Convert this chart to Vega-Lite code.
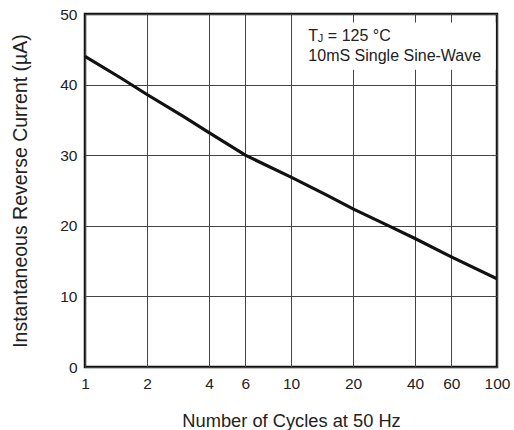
{
  "$schema": "https://vega.github.io/schema/vega-lite/v6.json",
  "autosize": "none",
  "width": 412,
  "height": 353,
  "padding": {"left": 85, "top": 14, "right": 17, "bottom": 63},
  "background": "white",
  "config": {
    "font": "Liberation Sans",
    "view": {"stroke": "#111", "strokeWidth": 2.5},
    "axis": {
      "domain": false,
      "ticks": false,
      "grid": true,
      "gridColor": "#444",
      "gridWidth": 1,
      "gridOpacity": 1,
      "labelFont": "Liberation Sans",
      "labelFontSize": 15.5,
      "labelColor": "#222",
      "titleFont": "Liberation Sans",
      "titleFontWeight": "normal",
      "titleColor": "#222"
    }
  },
  "layer": [
    {
      "data": {
        "values": [
          {"cycles": 1, "current": 44.0},
          {"cycles": 1.5, "current": 40.9},
          {"cycles": 2, "current": 38.6},
          {"cycles": 3, "current": 35.5},
          {"cycles": 4, "current": 33.2},
          {"cycles": 6, "current": 30.0},
          {"cycles": 10, "current": 26.9},
          {"cycles": 15, "current": 24.3},
          {"cycles": 20, "current": 22.4},
          {"cycles": 30, "current": 19.95},
          {"cycles": 40, "current": 18.2},
          {"cycles": 60, "current": 15.6},
          {"cycles": 100, "current": 12.5}
        ]
      },
      "mark": {"type": "line", "color": "#111", "strokeWidth": 3.2, "clip": true},
      "encoding": {
        "x": {
          "field": "cycles",
          "type": "quantitative",
          "scale": {"type": "log", "domain": [1, 100], "nice": false},
          "axis": {
            "values": [1, 2, 4, 6, 10, 20, 40, 60, 100],
            "format": "d",
            "labelPadding": 9,
            "labelFlush": false,
            "labelOverlap": false,
            "title": "Number of Cycles at 50 Hz",
            "titleFontSize": 18.3,
            "titlePadding": 21
          }
        },
        "y": {
          "field": "current",
          "type": "quantitative",
          "scale": {"domain": [0, 50], "nice": false},
          "axis": {
            "values": [0, 10, 20, 30, 40, 50],
            "labelPadding": 8,
            "title": "Instantaneous Reverse Current (µA)",
            "titleFontSize": 19.5,
            "titlePadding": 29
          }
        }
      }
    },
    {
      "data": {"values": [{}]},
      "mark": {"type": "rect", "color": "white"},
      "encoding": {
        "x": {"datum": 11.5, "type": "quantitative"},
        "x2": {"datum": 98.5},
        "y": {"datum": 48.8, "type": "quantitative"},
        "y2": {"datum": 42.1}
      }
    },
    {
      "data": {"values": [{}]},
      "mark": {"type": "text", "align": "left", "baseline": "alphabetic", "fontSize": 16, "fontWeight": "normal", "color": "#222", "font": "Liberation Sans"},
      "encoding": {
        "x": {"datum": 12.14, "type": "quantitative"},
        "y": {"datum": 46.23, "type": "quantitative"},
        "text": {"value": "T"}
      }
    },
    {
      "data": {"values": [{}]},
      "mark": {"type": "text", "align": "left", "baseline": "alphabetic", "fontSize": 11, "fontWeight": "normal", "dx": 9.5, "dy": 1.5, "color": "#222", "font": "Liberation Sans"},
      "encoding": {
        "x": {"datum": 12.14, "type": "quantitative"},
        "y": {"datum": 46.23, "type": "quantitative"},
        "text": {"value": "J"}
      }
    },
    {
      "data": {"values": [{}]},
      "mark": {"type": "text", "align": "left", "baseline": "alphabetic", "fontSize": 16, "fontWeight": "normal", "dx": 19.5, "color": "#222", "font": "Liberation Sans"},
      "encoding": {
        "x": {"datum": 12.14, "type": "quantitative"},
        "y": {"datum": 46.23, "type": "quantitative"},
        "text": {"value": "= 125 °C"}
      }
    },
    {
      "data": {"values": [{}]},
      "mark": {"type": "text", "align": "left", "baseline": "alphabetic", "fontSize": 16, "fontWeight": "normal", "color": "#222", "font": "Liberation Sans"},
      "encoding": {
        "x": {"datum": 12.14, "type": "quantitative"},
        "y": {"datum": 43.4, "type": "quantitative"},
        "text": {"value": "10mS Single Sine-Wave"}
      }
    }
  ]
}
